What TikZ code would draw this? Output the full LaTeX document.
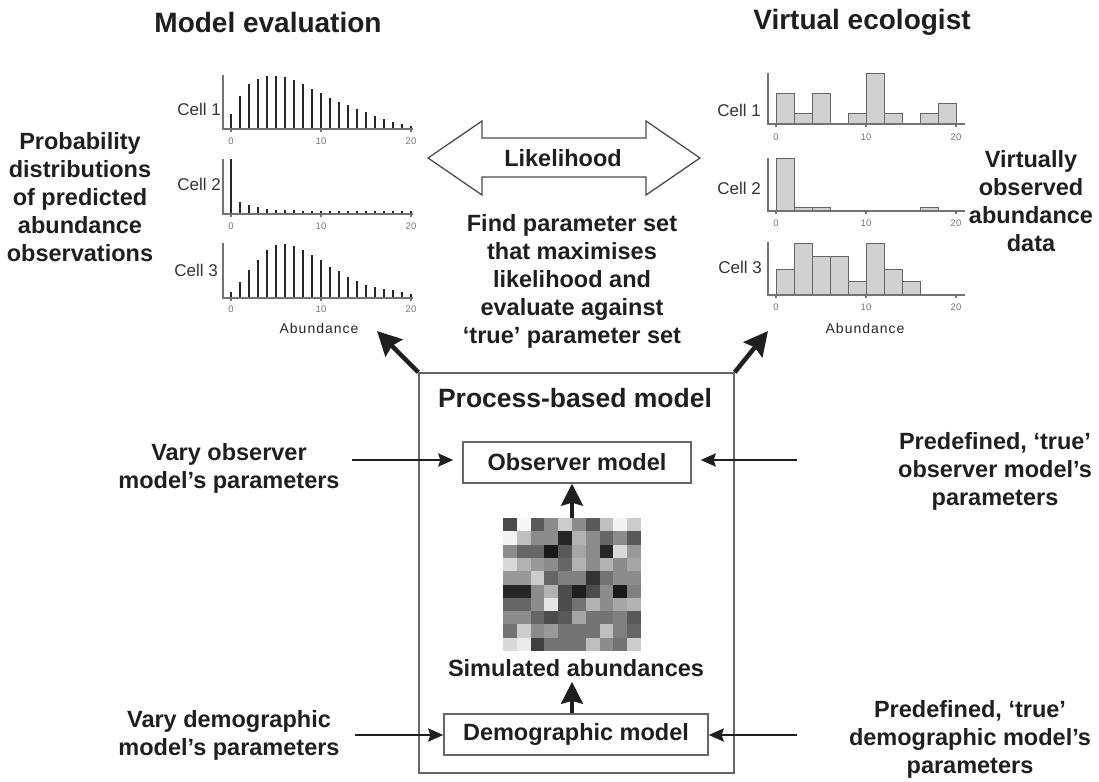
\documentclass[tikz,border=0pt]{standalone}
\usepackage{fontspec}
\setmainfont{Liberation Sans}
\usetikzlibrary{arrows.meta}
\begin{document}
\begin{tikzpicture}[x=1pt,y=-1pt,
 big/.style={font=\fontsize{23.5}{28}\selectfont\bfseries, align=center, text=black!88, inner sep=0pt},
 ttl/.style={font=\fontsize{28}{32}\selectfont\bfseries, text=black!88, inner sep=0pt},
 celllab/.style={font=\fontsize{17}{20}\selectfont, text=black!80, anchor=east, inner sep=0pt},
 ticklab/.style={font=\fontsize{9.5}{11}\selectfont, text=black!55, inner sep=0pt},
 abund/.style={font=\fontsize{14}{16}\selectfont\addfontfeature{LetterSpace=7}, text=black!85, inner sep=0pt},
 axis/.style={draw=black!55, line width=1.2pt},
 vbar/.style={line width=2.3pt, draw=black!85},
 hbar/.style={fill=black!18, draw=black!60, line width=1pt},
 box/.style={draw=black!60, line width=1.4pt, inner sep=0pt},
 thinarr/.style={-{Stealth[length=15pt,width=13pt,inset=2pt]}, line width=2.6pt, draw=black!88},
 fatarr/.style={-{Stealth[length=24pt,width=24pt,inset=3pt]}, line width=4.5pt, draw=black!88},
 midarr/.style={-{Stealth[length=22pt,width=22pt,inset=3pt]}, line width=3.5pt, draw=black!88},
]
\useasboundingbox (0,0) rectangle (1099,781);

% ---------- titles ----------
\node[ttl] (tme) at (268,22) {Model evaluation};
\node[ttl] (tve) at (862,22) {Virtual ecologist};

% ---------- side texts ----------
\node[big] (pdist) at (80,197) {Probability\\distributions\\of predicted\\abundance\\observations};
\node[big] (vobs) at (1031,201) {Virtually\\observed\\abundance\\data};
\node[big] (findp) at (572,281) {Find parameter set\\that maximises\\likelihood and\\evaluate against\\‘true’ parameter set};

% ---------- likelihood double arrow ----------
\draw[draw=black!70, line width=1.3pt] (428,158) -- (482,121) -- (482,138) -- (646,138) -- (646,121) -- (700,158) -- (646,195) -- (646,177) -- (482,177) -- (482,195) -- cycle;
\node[big] (lik) at (563,158) {Likelihood};

% ---------- left charts ----------
% Cell 1
\foreach \h [count=\i from 0] in {15.3,33.3,45,50.3,53.3,53.3,51.7,48.7,44.7,40,36,31.3,27,23.7,20.3,17,12.7,10,7.3,5,2.7}
  \draw[vbar] ({231+9*\i},129) -- ++(0,-\h);
\draw[axis] (223,75) -- (223,129) -- (413,129);
\foreach \t in {0,10,20} {
  \draw[axis] ({231+9*\t},129) -- ++(0,3);
  \node[ticklab] at ({231+9*\t},141) {\t};
}
\node[celllab] (lc1) at (221,109) {Cell 1};
% Cell 2
\foreach \h [count=\i from 0] in {55,12,9,7,5.3,4.5,4,3.7,3.5,3.3,3,3,3,3,3,3,3,3,3,3,3}
  \draw[vbar] ({231+9*\i},214) -- ++(0,-\h);
\draw[axis] (223,159) -- (223,214) -- (413,214);
\foreach \t in {0,10,20} {
  \draw[axis] ({231+9*\t},214) -- ++(0,3);
  \node[ticklab] at ({231+9*\t},226) {\t};
}
\node[celllab] (lc2) at (221,184) {Cell 2};
% Cell 3
\foreach \h [count=\i from 0] in {6,15.7,27.7,38.3,47.7,52.7,54.3,51.7,48.3,42.7,37.7,31,26.7,21,17.3,13.3,10.7,9,7.7,5.7,4}
  \draw[vbar] ({231+9*\i},298) -- ++(0,-\h);
\draw[axis] (223,243) -- (223,298) -- (413,298);
\foreach \t in {0,10,20} {
  \draw[axis] ({231+9*\t},298) -- ++(0,3);
  \node[ticklab] at ({231+9*\t},309) {\t};
}
\node[celllab] (lc3) at (218,270) {Cell 3};
\node[abund] (lab) at (319,328) {Abundance};

% ---------- right charts ----------
% Cell 1
\foreach \h [count=\i from 0] in {30,10,30,0,10,50,10,0,10,20}
  {\ifdim \h pt>0pt \draw[hbar] ({776+18*\i},124) rectangle ++(18,-\h);\fi}
\draw[axis] (768,73) -- (768,124) -- (965,124);
\foreach \t in {0,10,20} {
  \draw[axis] ({776+9*\t},124) -- ++(0,3);
  \node[ticklab] at ({776+9*\t},137) {\t};
}
\node[celllab] (rc1) at (761,110) {Cell 1};
% Cell 2
\foreach \h [count=\i from 0] in {53,3.5,3.5,0,0,0,0,0,3.5,0}
  {\ifdim \h pt>0pt \draw[hbar] ({776+18*\i},211) rectangle ++(18,-\h);\fi}
\draw[axis] (768,158) -- (768,211) -- (965,211);
\foreach \t in {0,10,20} {
  \draw[axis] ({776+9*\t},211) -- ++(0,3);
  \node[ticklab] at ({776+9*\t},223) {\t};
}
\node[celllab] (rc2) at (761,188) {Cell 2};
% Cell 3
\foreach \h [count=\i from 0] in {26,52,39,39,14,52,26,14,0,0}
  {\ifdim \h pt>0pt \draw[hbar] ({776+18*\i},295) rectangle ++(18,-\h);\fi}
\draw[axis] (768,242) -- (768,295) -- (965,295);
\foreach \t in {0,10,20} {
  \draw[axis] ({776+9*\t},295) -- ++(0,3);
  \node[ticklab] at ({776+9*\t},307) {\t};
}
\node[celllab] (rc3) at (762,267) {Cell 3};
\node[abund] (rab) at (865,328) {Abundance};

% ---------- process-based model ----------
\node[box, minimum width=315pt, minimum height=400pt] (pbm) at (576.5,573) {};
\node[big, font=\fontsize{26.5}{30}\selectfont\bfseries] (pbmlab) at (575,398) {Process-based model};
\node[box, big, minimum width=228pt, minimum height=41pt] (obs) at (577,462.5) {Observer model};
\node[box, big, minimum width=264pt, minimum height=41pt] (dem) at (576,734.5) {Demographic model};

% grid of simulated abundances
\node[minimum width=138pt, minimum height=133pt, inner sep=0pt] (grid) at (572,584.5) {};
\foreach \row [count=\r from 0] in {
 {70,3,65,45,20,45,65,25,5,20},
 {5,25,45,45,85,30,45,60,45,65},
 {45,60,60,90,65,35,45,85,15,40},
 {15,30,40,45,60,30,45,30,45,35},
 {40,40,20,60,50,50,80,55,45,45},
 {85,85,45,30,70,88,70,45,90,50},
 {60,60,45,10,70,55,30,45,35,30},
 {45,45,60,70,65,35,55,55,50,65},
 {55,20,45,40,55,55,55,25,50,60},
 {15,8,75,55,55,55,25,45,55,20}}
{
  \foreach \v [count=\c from 0] in \row
    \fill[black!\v] ({503+13.8*\c},{518+13.3*\r}) rectangle ++(14.0,13.5);
}
\node[big] (sim) at (576,668) {Simulated abundances};

% internal arrows
\draw[midarr] (grid.north) -- (grid.north |- obs.south);
\draw[midarr, shorten >=5pt] (dem.north -| grid.north) -- (sim.south -| grid.north);

% diagonal arrows
\coordinate (tipl) at (377,331);
\coordinate (tipr) at (768,331);
\draw[fatarr] (pbm.north west) -- (tipl);
\draw[fatarr] (pbm.north east) -- (tipr);

% parameter inputs
\node[big] (vary1) at (229,468.5) {Vary observer\\model’s parameters};
\node[big] (pre1) at (995,471) {Predefined, ‘true’\\observer model’s\\parameters};
\node[big] (vary2) at (229,735) {Vary demographic\\model’s parameters};
\node[big] (pre2) at (970,739) {Predefined, ‘true’\\demographic model’s\\parameters};

\coordinate (vo) at (352,460);
\coordinate (po) at (797,460);
\coordinate (vd) at (355,735);
\coordinate (pd) at (797,735);
\draw[thinarr, shorten >=9pt] (vo) -- (vo -| obs.west);
\draw[thinarr, shorten >=9pt] (po) -- (po -| obs.east);
\draw[thinarr] (vd) -- (vd -| dem.west);
\draw[thinarr] (pd) -- (pd -| dem.east);
\end{tikzpicture}
\end{document}
